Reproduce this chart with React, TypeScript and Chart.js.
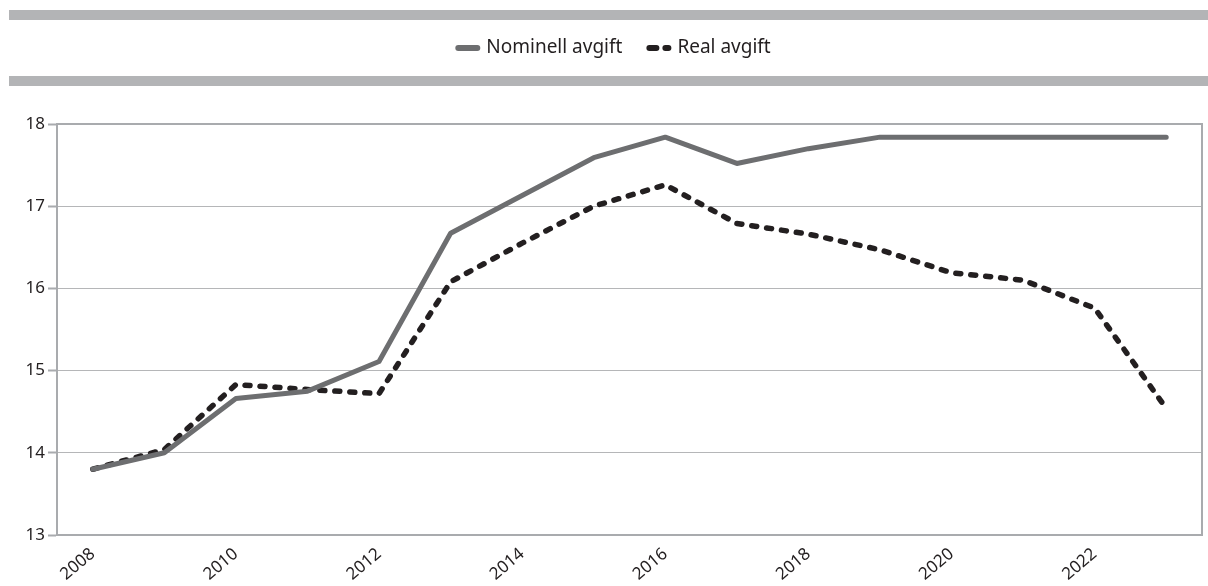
import React, { useEffect, useRef } from "react";
import { Chart, registerables } from "chart.js";

Chart.register(...registerables);

const years = ["2008","2009","2010","2011","2012","2013","2014","2015","2016","2017","2018","2019","2020","2021","2022","2023"];
const nominell = [13.8, 14.0, 14.66, 14.75, 15.11, 16.67, 17.13, 17.59, 17.84, 17.52, 17.70, 17.84, 17.84, 17.84, 17.84, 17.84];
const real = [13.8, 14.04, 14.83, 14.77, 14.72, 16.08, 16.55, 17.0, 17.26, 16.79, 16.66, 16.47, 16.19, 16.10, 15.76, 14.54];
const seriesNames = ["Nominell avgift", "Real avgift"];
const yMin = 13;
const yMax = 18;

const FONT = "'Noto Sans', 'Open Sans', sans-serif";

const decorPlugin = {
  id: "decor",
  beforeDraw(chart: any) {
    const ctx = chart.ctx;
    const w = chart.width;
    ctx.save();
    ctx.fillStyle = "#b3b4b6";
    ctx.fillRect(9, 10, w - 9, 10);
    ctx.fillRect(9, 76, w - 9, 10);
    ctx.restore();
  },
  afterDraw(chart: any) {
    const ctx = chart.ctx;
    const a = chart.chartArea;
    ctx.save();
    ctx.strokeStyle = "#a9abae";
    ctx.lineWidth = 2;
    ctx.strokeRect(a.left, a.top, a.right - a.left, a.bottom - a.top);
    ctx.font = `19px ${FONT}`;
    ctx.textBaseline = "middle";
    const ds = chart.data.datasets;
    const markerW = 25;
    const gapM = 6;
    const gapItems = 24;
    const widths = ds.map((d: any) => markerW + gapM + ctx.measureText(d.label).width);
    const total = widths.reduce((s: number, v: number) => s + v, 0) + gapItems * (ds.length - 1);
    let x = 613 - total / 2;
    const y = 48;
    ds.forEach((d: any, i: number) => {
      ctx.beginPath();
      ctx.strokeStyle = d.borderColor;
      ctx.lineWidth = 6;
      ctx.lineCap = "round";
      ctx.setLineDash(d.borderDash && d.borderDash.length ? [7, 9] : []);
      ctx.moveTo(x + 3, y);
      ctx.lineTo(x + markerW - 3, y);
      ctx.stroke();
      ctx.setLineDash([]);
      ctx.fillStyle = "#231f20";
      ctx.textAlign = "left";
      ctx.fillText(d.label, x + markerW + gapM, y);
      x += widths[i] + gapItems;
    });
    ctx.restore();
  },
};

export default function App() {
  const ref = useRef<HTMLCanvasElement | null>(null);
  useEffect(() => {
    document.body.style.margin = "0";
    const chart = new Chart(ref.current as HTMLCanvasElement, {
      type: "line",
      data: {
        labels: years,
        datasets: [
          {
            label: seriesNames[0],
            data: nominell,
            borderColor: "#6d6e70",
            borderWidth: 5,
            pointRadius: 0,
            borderJoinStyle: "round",
            borderCapStyle: "round",
            tension: 0,
          },
          {
            label: seriesNames[1],
            data: real,
            borderColor: "#231f20",
            borderWidth: 5.5,
            borderDash: [5, 10],
            borderCapStyle: "round",
            borderJoinStyle: "round",
            pointRadius: 0,
            tension: 0,
          },
        ],
      },
      options: {
        animation: false,
        responsive: false,
        maintainAspectRatio: false,
        layout: { padding: { top: 124, right: 6, left: 0, bottom: 0 } },
        plugins: { legend: { display: false }, tooltip: { enabled: false } },
        scales: {
          x: {
            offset: true,
            grid: { display: false },
            border: { display: true, color: "#a9abae", width: 2 },
            ticks: {
              autoSkip: false,
              minRotation: 40,
              maxRotation: 40,
              color: "#231f20",
              font: { family: FONT, size: 17 },
              padding: 1,
              callback: (_v: any, i: number) => (i % 2 === 0 ? years[i] : ""),
            },
            afterFit: (s: any) => {
              s.height = 51;
            },
          },
          y: {
            min: yMin,
            max: yMax,
            ticks: {
              stepSize: 1,
              color: "#231f20",
              font: { family: FONT, size: 17 },
              padding: 3,
            },
            grid: { color: "#b5b6b8", lineWidth: 1, tickLength: 9, tickColor: "#a9abae", tickWidth: 2 },
            border: { display: true, color: "#a9abae", width: 2 },
            afterFit: (s: any) => {
              s.width = 57;
            },
          },
        },
      },
      plugins: [decorPlugin],
    });
    return () => chart.destroy();
  }, []);
  return (
    <div style={{ width: 1208, height: 586 }}>
      <canvas ref={ref} width={1208} height={586} style={{ display: "block" }} />
    </div>
  );
}
